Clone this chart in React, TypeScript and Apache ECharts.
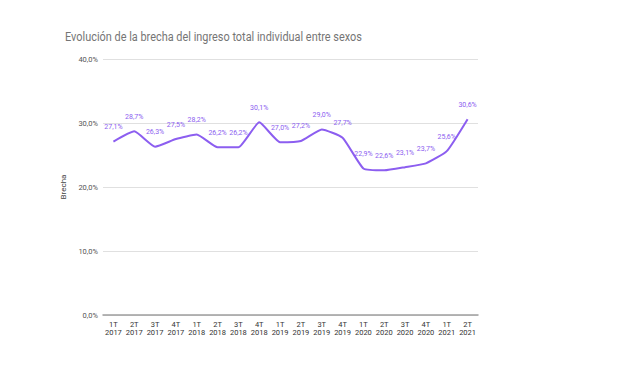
import React, { useEffect, useRef } from "react";
import * as echarts from "echarts";

const quarters = ["1T","2T","3T","4T","1T","2T","3T","4T","1T","2T","3T","4T","1T","2T","3T","4T","1T","2T"];
const years = ["2017","2017","2017","2017","2018","2018","2018","2018","2019","2019","2019","2019","2020","2020","2020","2020","2021","2021"];
const brecha = [27.1, 28.7, 26.3, 27.5, 28.2, 26.2, 26.2, 30.1, 27.0, 27.2, 29.0, 27.7, 22.9, 22.6, 23.1, 23.7, 25.6, 30.6];
const yTicks = [0, 10, 20, 30, 40];
const titleText = "Evolución de la brecha del ingreso total individual entre sexos";

const fmt = (v: number) => v.toFixed(1).replace(".", ",") + "%";
const FONT = "Roboto, Arial, sans-serif";

export default function App() {
  const ref = useRef<HTMLDivElement>(null);
  useEffect(() => {
    if (!ref.current) return;
    const chart = echarts.init(ref.current, undefined, { renderer: "svg" });
    const categories = quarters.map((q, i) => q + "\n" + years[i]);
    chart.setOption({
      animation: false,
      backgroundColor: "#ffffff",
      graphic: [
        {
          type: "text",
          x: 57,
          y: 29,
          scaleX: 0.84,
          style: {
            text: titleText,
            fontFamily: FONT,
            fontSize: 13,
            fill: "#757575",
            textVerticalAlign: "middle",
          },
        },
      ],
      grid: { left: 95, right: 140, top: 51, bottom: 46 },
      xAxis: {
        type: "category",
        data: categories,
        boundaryGap: true,
        axisLine: { show: true, lineStyle: { color: "#9e9e9e", width: 1.5 } },
        axisTick: { show: false },
        axisLabel: {
          interval: 0,
          fontSize: 7.5,
          lineHeight: 8,
          color: "#333",
          fontFamily: FONT,
          margin: 5,
        },
      },
      yAxis: {
        type: "value",
        min: yTicks[0],
        max: yTicks[yTicks.length - 1],
        interval: 10,
        name: "Brecha",
        nameLocation: "middle",
        nameGap: 33,
        nameTextStyle: { fontSize: 8, color: "#444", fontFamily: FONT },
        axisLine: { show: false },
        axisTick: { show: false },
        axisLabel: {
          formatter: (v: number) => fmt(v),
          fontSize: 7.5,
          color: "#555",
          fontFamily: FONT,
          margin: 5,
        },
        splitLine: { lineStyle: { color: "#e0e0e0", width: 1 } },
      },
      series: [
        {
          type: "line",
          data: brecha,
          smooth: 0.15,
          symbol: "circle",
          symbolSize: 2,
          showSymbol: true,
          itemStyle: { color: "rgba(140,94,240,0)" },
          lineStyle: { color: "#8c5ef0", width: 2 },
          label: {
            show: true,
            position: "top",
            distance: 10,
            formatter: (p: any) => fmt(p.value),
            fontSize: 7,
            color: "#8c5ef0",
            fontFamily: FONT,
          },
          labelLayout: { hideOverlap: false },
        },
      ],
    });
    return () => chart.dispose();
  }, []);
  return <div ref={ref} style={{ width: 610, height: 353 }} />;
}
